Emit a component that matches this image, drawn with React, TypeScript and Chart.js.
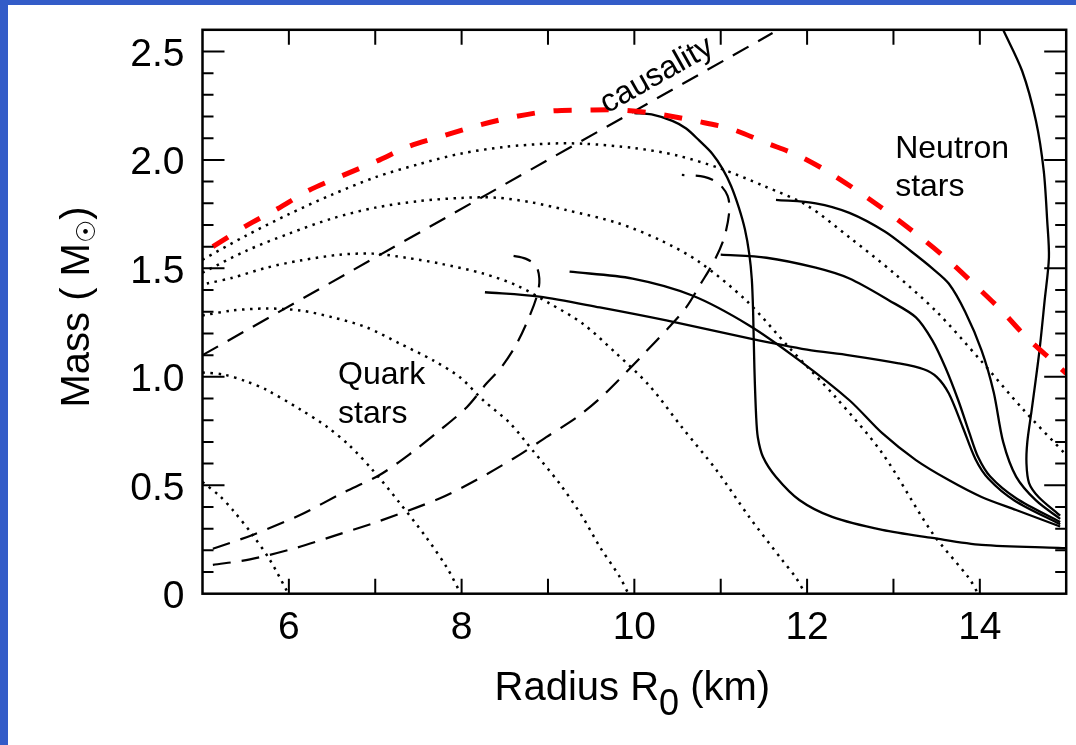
import { useEffect, useRef } from "react";
import { Chart, registerables } from "chart.js";

Chart.register(...registerables);

type P = [number, number];

const FONT = '"Liberation Sans", Arial, Helvetica, sans-serif';
const BLUE = "#335cc8";

// axis ticks
const xLabelTicks = [6, 8, 10, 12, 14];
const yLabelTicks = [0, 0.5, 1.0, 1.5, 2.0, 2.5];
const xTickMarks = [6, 7, 8, 9, 10, 11, 12, 13, 14];
const yTickMarks = [0.1, 0.2, 0.3, 0.4, 0.5, 0.6, 0.7, 0.8, 0.9, 1.0, 1.1, 1.2, 1.3, 1.4, 1.5, 1.6, 1.7, 1.8, 1.9, 2.0, 2.1, 2.2, 2.3, 2.4, 2.5];

// maximum-mass envelope (red dashed)
const maxMass: P[] = [
  [5.12, 1.6], [5.51, 1.697], [5.87, 1.775], [6.22, 1.857], [6.61, 1.926], [7.02, 1.995], [7.4, 2.064],
  [7.78, 2.11], [8.21, 2.161], [8.6, 2.198], [9.02, 2.225], [9.45, 2.23], [9.86, 2.23], [10.29, 2.211],
  [10.72, 2.179], [11.12, 2.143], [11.53, 2.078], [11.91, 2.018], [12.28, 1.936], [12.83, 1.789],
  [13.29, 1.651], [13.64, 1.536], [13.95, 1.421], [14.25, 1.306], [14.54, 1.182], [14.86, 1.067], [15.0, 1.016],
];

// causality limit (thin dashed straight line)
const causality: P[] = [[5.0, 1.1], [11.6, 2.585]];

// strange / self-bound dashed curves
const dashedA: P[] = [
  [5.12, 0.207], [5.58, 0.271], [6.13, 0.363], [6.62, 0.464], [7.05, 0.547], [7.43, 0.653], [7.75, 0.754],
  [8.06, 0.86], [8.29, 0.97], [8.46, 1.044], [8.64, 1.154], [8.79, 1.283], [8.88, 1.384], [8.9, 1.453],
  [8.86, 1.513], [8.74, 1.545], [8.58, 1.559],
];
const dashedB: P[] = [
  [5.12, 0.133], [5.55, 0.158], [6.09, 0.212], [6.55, 0.27], [7.05, 0.335], [7.75, 0.44], [8.17, 0.524],
  [8.67, 0.64], [8.98, 0.722], [9.33, 0.812], [9.6, 0.9], [9.83, 0.99], [10.12, 1.11], [10.4, 1.228],
  [10.6, 1.32], [10.77, 1.43], [10.92, 1.53], [11.04, 1.641], [11.1, 1.766], [11.08, 1.834], [10.98, 1.89],
  [10.81, 1.922], [10.55, 1.931],
];

// quark star sequences (dotted)
const quark1: P[] = [[5.0, 0.515], [5.2, 0.45], [5.35, 0.386], [5.58, 0.271], [5.78, 0.156], [5.97, 0.018], [5.99, 0.0]];
const quark2: P[] = [
  [5.0, 1.02], [5.25, 1.01], [5.5, 0.98], [5.74, 0.94], [6.13, 0.85], [6.44, 0.77], [6.71, 0.68], [6.97, 0.57],
  [7.28, 0.42], [7.59, 0.26], [7.83, 0.12], [7.99, 0.0],
];
const quark3: P[] = [
  [5.0, 1.283], [5.35, 1.306], [5.74, 1.315], [6.13, 1.306], [6.51, 1.274], [6.9, 1.228], [7.28, 1.154],
  [7.67, 1.076], [7.98, 0.998], [8.25, 0.892], [8.56, 0.786], [8.82, 0.662], [9.13, 0.51], [9.4, 0.354],
  [9.6, 0.216], [9.83, 0.078], [9.93, 0.0],
];
const quark4: P[] = [
  [5.05, 1.43], [5.35, 1.457], [5.74, 1.503], [6.13, 1.536], [6.59, 1.563], [6.97, 1.568], [7.36, 1.549],
  [7.75, 1.522], [8.25, 1.476], [8.64, 1.421], [9.02, 1.338], [9.4, 1.246], [9.79, 1.108], [10.17, 0.961],
  [10.55, 0.768], [10.95, 0.57], [11.33, 0.354], [11.71, 0.156], [11.87, 0.074], [11.98, 0.0],
];
const quark5: P[] = [
  [5.0, 1.48], [5.5, 1.58], [6.0, 1.66], [6.5, 1.73], [7.0, 1.78], [7.5, 1.81], [8.0, 1.825], [8.4, 1.826],
  [8.8, 1.805], [9.2, 1.77], [9.8, 1.71], [10.3, 1.63], [10.75, 1.53], [11.3, 1.35], [11.79, 1.136],
  [12.33, 0.906], [12.87, 0.648], [13.45, 0.28], [13.87, 0.074], [13.98, 0.0],
];
const quark6: P[] = [
  [5.0, 1.54], [5.5, 1.65], [6.0, 1.75], [6.5, 1.84], [7.0, 1.92], [7.5, 1.98], [8.0, 2.03], [8.5, 2.06],
  [9.0, 2.075], [9.4, 2.075], [10.0, 2.055], [10.5, 2.02], [11.0, 1.96], [11.5, 1.88], [12.0, 1.79],
  [12.5, 1.64], [13.0, 1.48], [13.5, 1.3], [14.0, 1.08], [14.5, 0.85], [15.0, 0.64],
];

// neutron star sequences (solid)
const neutron1: P[] = [
  [10.0, 2.216], [10.2, 2.21], [10.44, 2.18], [10.6, 2.145], [10.75, 2.09], [10.9, 2.03], [11.02, 1.96],
  [11.12, 1.88], [11.21, 1.78], [11.28, 1.68], [11.33, 1.568], [11.36, 1.45], [11.375, 1.3], [11.39, 1.04],
  [11.41, 0.82], [11.43, 0.72], [11.49, 0.63], [11.64, 0.538], [11.91, 0.432], [12.29, 0.354],
  [12.87, 0.294], [13.45, 0.257], [14.02, 0.225], [14.91, 0.211], [15.0, 0.21],
];
const neutron2: P[] = [
  [9.25, 1.485], [9.98, 1.453], [10.67, 1.375], [11.33, 1.237], [11.91, 1.076], [12.49, 0.892], [12.87, 0.74],
  [13.26, 0.616], [13.64, 0.524], [14.02, 0.446], [14.42, 0.386], [14.93, 0.31],
];
const neutron3: P[] = [
  [8.27, 1.39], [8.9, 1.37], [9.6, 1.32], [10.37, 1.26], [11.33, 1.177], [12.0, 1.125], [12.49, 1.099],
  [13.06, 1.062], [13.35, 1.035], [13.5, 1.0], [13.64, 0.924], [13.8, 0.77], [13.95, 0.62], [14.1, 0.53],
  [14.4, 0.43], [14.93, 0.32],
];
const neutron4: P[] = [
  [11.0, 1.563], [11.53, 1.549], [12.1, 1.503], [12.49, 1.453], [12.95, 1.352], [13.26, 1.274], [13.45, 1.168],
  [13.6, 1.044], [13.75, 0.892], [13.88, 0.74], [13.98, 0.63], [14.12, 0.54], [14.42, 0.44], [14.93, 0.33],
];
const neutron5: P[] = [
  [11.64, 1.816], [12.1, 1.8], [12.49, 1.756], [12.9, 1.67], [13.2, 1.58], [13.45, 1.5], [13.64, 1.43],
  [13.83, 1.3], [14.02, 1.122], [14.16, 0.93], [14.27, 0.7], [14.42, 0.54], [14.65, 0.43], [14.93, 0.345],
];
const neutron6: P[] = [
  [14.27, 2.6], [14.49, 2.41], [14.65, 2.18], [14.74, 1.95], [14.78, 1.72], [14.8, 1.55], [14.75, 1.35],
  [14.69, 1.12], [14.6, 0.846], [14.55, 0.7], [14.54, 0.6], [14.57, 0.51], [14.68, 0.446], [14.93, 0.36],
];

// text annotations (data coordinates of left baseline)
const noteTexts = ["Neutron", "stars", "Quark", "stars"];
const noteX = [13.02, 13.02, 6.57, 6.57];
const noteY = [2.009, 1.833, 0.967, 0.787];
const causalityLabel = { text: "causality", x: 10.26, y: 2.39 };

const pts = (a: P[]) => a.map(([x, y]) => ({ x, y }));

const decorPlugin = {
  id: "decor",
  afterDraw(chart: any) {
    const { ctx, chartArea: a, scales } = chart;
    const xs = scales.x;
    const ys = scales.y;
    ctx.save();
    ctx.strokeStyle = "#000";
    ctx.lineWidth = 2.5;
    ctx.strokeRect(a.left, a.top, a.right - a.left, a.bottom - a.top);
    ctx.lineWidth = 2;
    ctx.beginPath();
    for (const v of xTickMarks) {
      const px = xs.getPixelForValue(v);
      ctx.moveTo(px, a.bottom);
      ctx.lineTo(px, a.bottom - 15);
      ctx.moveTo(px, a.top);
      ctx.lineTo(px, a.top + 15);
    }
    for (const v of yTickMarks) {
      const py = ys.getPixelForValue(v);
      const major = yLabelTicks.some((t) => Math.abs(t - v) < 1e-6);
      const len = major ? 22 : 11;
      ctx.moveTo(a.left, py);
      ctx.lineTo(a.left + len, py);
      ctx.moveTo(a.right, py);
      ctx.lineTo(a.right - len, py);
    }
    ctx.stroke();

    ctx.fillStyle = "#000";
    ctx.font = `32px ${FONT}`;
    ctx.textAlign = "left";
    ctx.textBaseline = "alphabetic";
    noteTexts.forEach((t, i) => {
      ctx.fillText(t, xs.getPixelForValue(noteX[i]), ys.getPixelForValue(noteY[i]));
    });

    // causality label, rotated along the line
    const x1 = xs.getPixelForValue(causality[0][0]);
    const y1 = ys.getPixelForValue(causality[0][1]);
    const x2 = xs.getPixelForValue(causality[1][0]);
    const y2 = ys.getPixelForValue(causality[1][1]);
    const ang = Math.atan2(y2 - y1, x2 - x1);
    ctx.save();
    ctx.translate(xs.getPixelForValue(causalityLabel.x), ys.getPixelForValue(causalityLabel.y));
    ctx.rotate(ang);
    ctx.textAlign = "center";
    ctx.textBaseline = "middle";
    ctx.fillText(causalityLabel.text, 0, 0);
    ctx.restore();

    // x axis title with subscript
    {
      const big = `40px ${FONT}`;
      const small = `36px ${FONT}`;
      ctx.textAlign = "left";
      ctx.textBaseline = "alphabetic";
      ctx.font = big;
      const t1 = "Radius R";
      const t3 = " (km)";
      const w1 = ctx.measureText(t1).width;
      const w3 = ctx.measureText(t3).width;
      ctx.font = small;
      const w2 = ctx.measureText("0").width;
      const cx = (a.left + a.right) / 2 - 2;
      const base = 695;
      const sx = cx - (w1 + w2 + w3) / 2;
      ctx.font = big;
      ctx.fillText(t1, sx, base);
      ctx.font = small;
      ctx.fillText("0", sx + w1, base + 15);
      ctx.font = big;
      ctx.fillText(t3, sx + w1 + w2, base);
    }
    // y axis title with sun subscript
    {
      const big = `40px ${FONT}`;
      const small = `26px "DejaVu Sans", ${FONT}`;
      ctx.save();
      ctx.translate(81, 302);
      ctx.rotate(-Math.PI / 2);
      ctx.textAlign = "left";
      ctx.textBaseline = "alphabetic";
      ctx.font = big;
      const t1 = "Mass ( M";
      const t3 = ")";
      const w1 = ctx.measureText(t1).width;
      const w3 = ctx.measureText(t3).width;
      ctx.font = small;
      const w2 = ctx.measureText("\u2609").width;
      const sx = -(w1 + w2 + w3) / 2;
      ctx.font = big;
      ctx.fillText(t1, sx, 0);
      ctx.font = small;
      ctx.fillText("\u2609", sx + w1, 6);
      ctx.font = big;
      ctx.fillText(t3, sx + w1 + w2, 0);
      ctx.restore();
    }
    ctx.restore();
  },
};

export default function App() {
  const ref = useRef<HTMLCanvasElement | null>(null);
  useEffect(() => {
    if (!ref.current) return;
    const solid = (d: P[]) => ({
      data: pts(d), borderColor: "#000", borderWidth: 2.3, pointRadius: 0, tension: 0.3, fill: false,
    });
    const dotted = (d: P[]) => ({
      data: pts(d), borderColor: "#000", borderWidth: 2.5, borderDash: [2.5, 5.5], pointRadius: 0, tension: 0.3, fill: false,
    });
    const dashed = (d: P[]) => ({
      data: pts(d), borderColor: "#000", borderWidth: 2.2, borderDash: [18, 11], pointRadius: 0, tension: 0.3, fill: false,
    });
    const chart = new Chart(ref.current, {
      type: "line",
      data: {
        datasets: [
          { data: pts(maxMass), borderColor: "#ff0000", borderWidth: 5, borderDash: [18, 19], pointRadius: 0, tension: 0.3, fill: false },
          dashed(causality),
          dashed(dashedA),
          dashed(dashedB),
          dotted(quark1), dotted(quark2), dotted(quark3), dotted(quark4), dotted(quark5), dotted(quark6),
          solid(neutron1), solid(neutron2), solid(neutron3), solid(neutron4), solid(neutron5), solid(neutron6),
        ] as any,
      },
      options: {
        responsive: false,
        animation: false,
        layout: { padding: { top: 24.8, right: 9.8, left: 0, bottom: 0 } },
        plugins: { legend: { display: false }, tooltip: { enabled: false } },
        scales: {
          x: {
            type: "linear",
            min: 5,
            max: 15,
            grid: { display: false, drawTicks: false },
            border: { display: false },
            ticks: {
              color: "#000",
              font: { size: 39, family: FONT },
              padding: 11,
              maxRotation: 0,
              autoSkip: false,
              callback: (v: any) => String(v),
            },
            afterBuildTicks: (s: any) => {
              s.ticks = xLabelTicks.map((v) => ({ value: v }));
            },
            afterFit: (s: any) => {
              s.height = 151.3;
              s.paddingLeft = 0;
              s.paddingRight = 0;
              s.paddingTop = 0;
              s.paddingBottom = 0;
            },
          },
          y: {
            type: "linear",
            min: 0,
            max: 2.6,
            grid: { display: false, drawTicks: false },
            border: { display: false },
            ticks: {
              color: "#000",
              font: { size: 39, family: FONT },
              padding: 18,
              labelOffset: 3.5,
              autoSkip: false,
              callback: (v: any) => (Number(v) === 0 ? "0" : Number(v).toFixed(1)),
            },
            afterBuildTicks: (s: any) => {
              s.ticks = yLabelTicks.map((v) => ({ value: v }));
            },
            afterFit: (s: any) => {
              s.width = 194.5;
              s.paddingLeft = 0;
              s.paddingRight = 0;
              s.paddingTop = 0;
              s.paddingBottom = 0;
            },
          },
        },
      } as any,
      plugins: [decorPlugin],
    });
    return () => chart.destroy();
  }, []);

  return (
    <div style={{ position: "fixed", left: 0, top: 0, width: 1076, height: 745, background: BLUE, overflow: "hidden" }}>
      <div style={{ position: "absolute", left: 8, top: 5, width: 1068, height: 740, background: "#fff" }}>
        <canvas ref={ref} width={1068} height={740} style={{ display: "block", width: 1068, height: 740 }} />
      </div>
    </div>
  );
}
